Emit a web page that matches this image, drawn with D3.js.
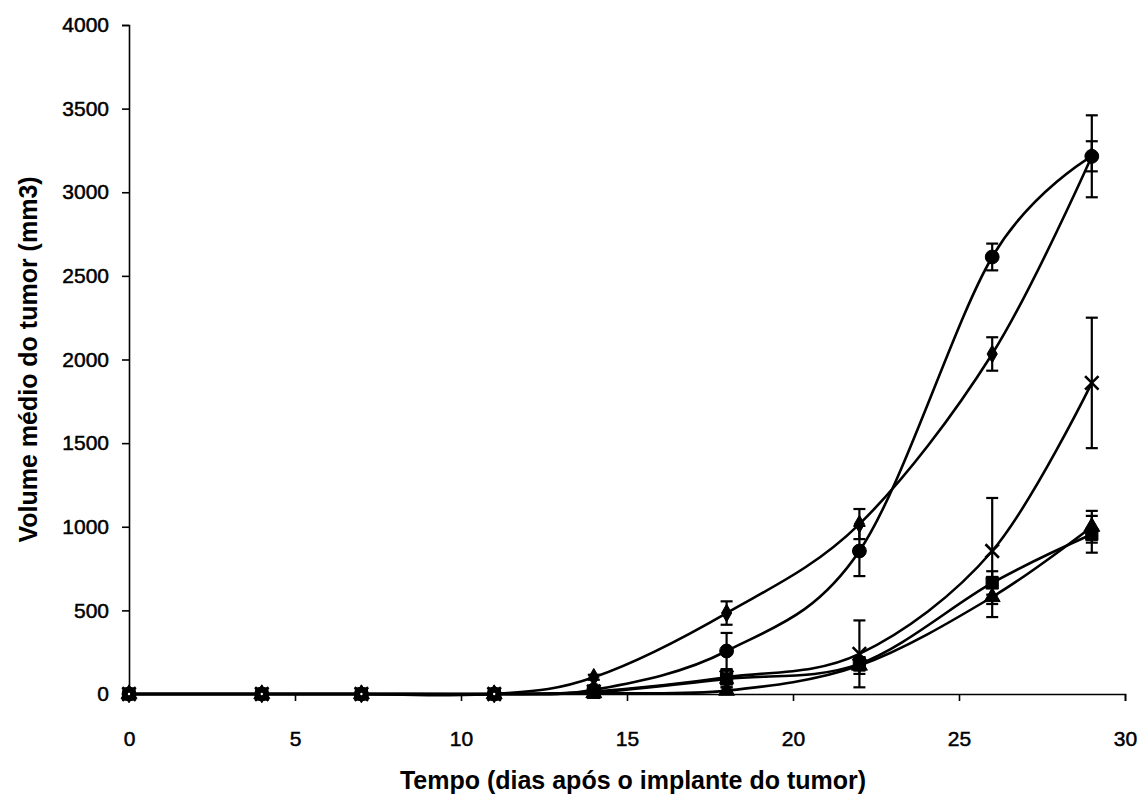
<!DOCTYPE html>
<html><head><meta charset="utf-8">
<script src="https://cdn.jsdelivr.net/npm/d3@7"></script>
<style>body{margin:0;background:#fff}svg{display:block}text{font-family:"Liberation Sans",Arial,sans-serif;fill:#000}</style>
</head><body><svg id="c" width="1140" height="808"></svg>
<script>
const days = [0, 4, 7, 11, 14, 18, 22, 26, 29];
const circleVals   = [0, 0, 0, 0, 25, 257, 855, 2613, 3215];
const circleErr    = [0, 0, 0, 0, 10, 108, 150, 80, 90];
const diamondVals  = [0, 0, 0, 0, 100, 484, 1016, 2033, 3215];
const diamondErr   = [0, 0, 0, 0, 15, 70, 90, 100, 245];
const crossVals    = [0, 0, 0, 0, 15, 100, 240, 855, 1860];
const crossErr     = [0, 0, 0, 0, 10, 40, 200, 317, 390];
const squareVals   = [0, 0, 0, 0, 10, 90, 180, 664, 955];
const squareErr    = [0, 0, 0, 0, 5, 50, 40, 70, 110];
const triangleVals = [0, 0, 0, 0, 5, 20, 170, 580, 1000];
const triangleErr  = [0, 0, 0, 0, 5, 20, 50, 120, 95];
const xTicks = [0, 5, 10, 15, 20, 25, 30];
const yTicks = [0, 500, 1000, 1500, 2000, 2500, 3000, 3500, 4000];
const xTitle = "Tempo (dias após o implante do tumor)";
const yTitle = "Volume médio do tumor (mm3)";

const series = [
  {vals: triangleVals, err: triangleErr, sym: "triangle"},
  {vals: crossVals, err: crossErr, sym: "cross"},
  {vals: diamondVals, err: diamondErr, sym: "diamond"},
  {vals: circleVals, err: circleErr, sym: "circle"},
  {vals: squareVals, err: squareErr, sym: "square"}
];

const svg = d3.select("#c");
const x = d3.scaleLinear().domain([0, 30]).range([129, 1125]);
const y = d3.scaleLinear().domain([0, 4000]).range([694, 25]);

const yAxis = svg.append("g").attr("transform", `translate(${x(0)},0)`)
  .call(d3.axisLeft(y).tickValues(yTicks).tickSize(7).tickPadding(13).tickFormat(d3.format("d")));
const xAxis = svg.append("g").attr("transform", `translate(0,${y(0)})`)
  .call(d3.axisBottom(x).tickValues(xTicks).tickSize(7).tickPadding(30).tickFormat(d3.format("d")));
[xAxis, yAxis].forEach(g => {
  g.select(".domain").attr("stroke", "#000").attr("stroke-width", 1.6);
  g.selectAll(".tick line").attr("stroke", "#000").attr("stroke-width", 1.6);
  g.selectAll(".tick text").attr("font-size", 21).attr("font-family", "Liberation Sans, Arial, sans-serif")
    .attr("stroke", "#000").attr("stroke-width", 0.5);
});

svg.append("text").attr("x", 633).attr("y", 789).attr("text-anchor", "middle")
  .attr("font-size", 25).attr("font-weight", "bold").text(xTitle);
svg.append("text").attr("transform", `translate(37,${(y(0)+y(4000))/2}) rotate(-90)`)
  .attr("text-anchor", "middle").attr("font-size", 25).attr("font-weight", "bold").text(yTitle);

const line = d3.line().x(d => x(d[0])).y(d => y(d[1])).curve(d3.curveCatmullRom.alpha(0));
const plot = svg.append("g");

series.forEach(s => {
  const pts = days.map((d, i) => [d, s.vals[i], s.err[i]]);
  plot.append("path").datum(pts).attr("d", line).attr("fill", "none")
    .attr("stroke", "#000").attr("stroke-width", 2.6);
});

series.forEach(s => {
  const pts = days.map((d, i) => [d, s.vals[i], s.err[i]]);
  const eb = plot.append("g").attr("stroke", "#000").attr("stroke-width", 2.2);
  pts.filter(p => p[2] > 6).forEach(p => {
    const cx = x(p[0]), t = y(p[1] + p[2]), b = y(p[1] - p[2]);
    eb.append("line").attr("x1", cx).attr("x2", cx).attr("y1", t).attr("y2", b);
    eb.append("line").attr("x1", cx - 6).attr("x2", cx + 6).attr("y1", t).attr("y2", t);
    eb.append("line").attr("x1", cx - 6).attr("x2", cx + 6).attr("y1", b).attr("y2", b);
  });
});

const symMap = {circle: d3.symbolCircle, diamond: d3.symbolDiamond, square: d3.symbolSquare, triangle: d3.symbolTriangle, cross: d3.symbolX};
const sizeMap = {circle: 150, diamond: 90, square: 150, triangle: 110, cross: 120};
series.forEach(s => {
  const pts = days.map((d, i) => [d, s.vals[i]]);
  const sym = d3.symbol().type(symMap[s.sym]).size(sizeMap[s.sym]);
  plot.append("g").selectAll("path").data(pts).join("path")
    .attr("transform", d => `translate(${x(d[0])},${y(d[1])})`)
    .attr("d", sym)
    .attr("fill", s.sym === "cross" ? "none" : "#000")
    .attr("stroke", "#000").attr("stroke-width", s.sym === "cross" ? 2.6 : 1);
});
plot.append("g").selectAll("circle").data(days.filter((d, i) => squareVals[i] === 0)).join("circle")
  .attr("cx", d => x(d)).attr("cy", y(0)).attr("r", 1.2).attr("fill", "#fff");
</script></body></html>
